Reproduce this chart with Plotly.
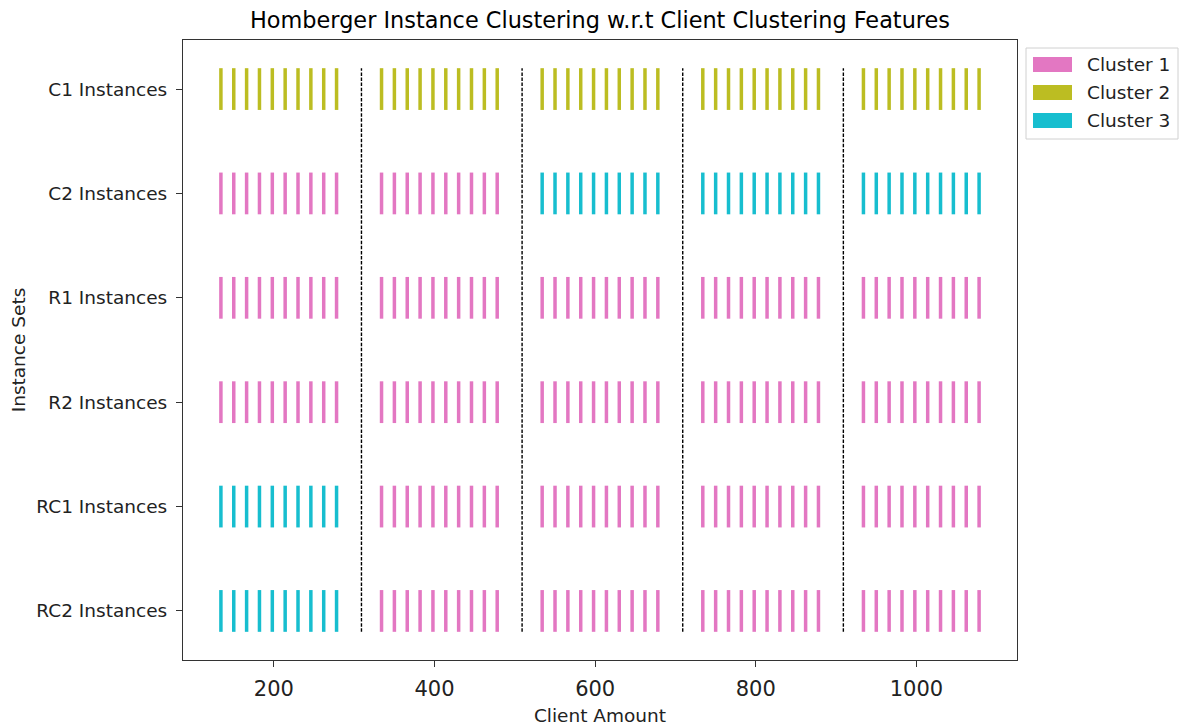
import plotly.graph_objects as go

# ---- data ----
instance_sets = ["C1 Instances", "C2 Instances", "R1 Instances", "R2 Instances",
                 "RC1 Instances", "RC2 Instances"]
group_starts = [134, 334, 534, 734, 934]          # first client amount of each group
group_step = 16                                     # spacing between instances in a group
n_per_group = 10
dividers = [309, 509, 709, 909]
# cluster id per instance set (rows) and group (columns)
clusters = [
    [2, 2, 2, 2, 2],  # C1
    [1, 1, 3, 3, 3],  # C2
    [1, 1, 1, 1, 1],  # R1
    [1, 1, 1, 1, 1],  # R2
    [3, 1, 1, 1, 1],  # RC1
    [3, 1, 1, 1, 1],  # RC2
]
cluster_names = ["Cluster 1", "Cluster 2", "Cluster 3"]
cluster_colors = {1: "#e377c2", 2: "#bcbd22", 3: "#17becf"}
x_ticks = [200, 400, 600, 800, 1000]

# ---- figure ----
OFF = 8  # page body margin
W, H = 1188 - OFF, 727 - OFF
PL, PR, PT, PB = 183, 1017, 40, 660   # plot area in screen pixels
L, T = PL - OFF, PT - OFF
R, B = W - (PR - OFF), H - (PB - OFF)
half = 0.2
nrows = len(instance_sets)
ypos = {name: nrows - 1 - i for i, name in enumerate(instance_sets)}

fig = go.Figure()
for cid in (1, 2, 3):
    xs, ys = [], []
    for r, name in enumerate(instance_sets):
        yc = ypos[name]
        for g, start in enumerate(group_starts):
            if clusters[r][g] != cid:
                continue
            for i in range(n_per_group):
                x = start + i * group_step
                xs += [x, x, None]
                ys += [yc - half, yc + half, None]
    fig.add_trace(go.Scatter(x=xs, y=ys, mode="lines",
                             line=dict(color=cluster_colors[cid], width=3.5),
                             name=cluster_names[cid - 1], showlegend=False,
                             hoverinfo="skip"))

dx, dy = [], []
for d in dividers:
    dx += [d, d, None]
    dy += [-half, nrows - 1 + half, None]
fig.add_trace(go.Scatter(x=dx, y=dy, mode="lines",
                         line=dict(color="black", width=1.4, dash="3.5px,1.6px"),
                         showlegend=False, hoverinfo="skip"))

xmin = group_starts[0]
xmax = group_starts[-1] + (n_per_group - 1) * group_step
xm = 0.05 * (xmax - xmin)
ymin, ymax = -half, nrows - 1 + half
ym = 0.05 * (ymax - ymin)

font = "DejaVu Sans"
fig.update_layout(
    width=W, height=H,
    margin=dict(l=L, r=R, t=T, b=B, autoexpand=False),
    paper_bgcolor="white", plot_bgcolor="white",
    font=dict(family=font, size=18, color="#222"),
    title=dict(text="Homberger Instance Clustering w.r.t Client Clustering Features",
               x=((PL + PR) / 2 - OFF) / W, xanchor="center",
               y=1 - (20 - OFF) / H, yanchor="middle",
               font=dict(family=font, size=22.4, color="black")),
    showlegend=False,
)
fig.update_xaxes(range=[xmin - xm, xmax + xm], tickvals=x_ticks, automargin=False,
                 ticks="outside", ticklen=6, tickwidth=1.2, tickcolor="#333",
                 showline=True, linecolor="#333", linewidth=1.2, mirror=True,
                 showgrid=False, zeroline=False, ticklabelstandoff=4,
                 tickfont=dict(family=font, size=21, color="#222"),
                 title=dict(text="Client Amount", font=dict(family=font, size=18.5, color="#222"),
                            standoff=8))
fig.update_yaxes(range=[ymin - ym, ymax + ym], automargin=False,
                 tickvals=[ypos[n] for n in instance_sets], ticktext=instance_sets,
                 ticks="outside", ticklen=6, tickwidth=1.2, tickcolor="#333",
                 showline=True, linecolor="#333", linewidth=1.2, mirror=True,
                 showgrid=False, zeroline=False, ticklabelstandoff=5,
                 tickfont=dict(family=font, size=18.5, color="#222"),
                 title=dict(text="Instance Sets", font=dict(family=font, size=18.5, color="#222"),
                            standoff=8))

# ---- manual legend (matplotlib style, outside right) ----
pw, ph = PR - PL, PB - PT
def px(x): return (x - PL) / pw
def py(y): return (PB - y) / ph

fig.add_shape(type="rect", xref="paper", yref="paper",
              x0=px(1026), x1=px(1178), y0=py(139), y1=py(48),
              line=dict(color="#d0d0d0", width=1), fillcolor="white")
for k, cid in enumerate((1, 2, 3)):
    yc = 64.5 + k * 28
    fig.add_shape(type="rect", xref="paper", yref="paper",
                  x0=px(1033), x1=px(1072), y0=py(yc + 7.5), y1=py(yc - 7.5),
                  line=dict(width=0), fillcolor=cluster_colors[cid])
    fig.add_annotation(xref="paper", yref="paper", x=px(1085), y=py(yc),
                       text=cluster_names[k], showarrow=False,
                       xanchor="left", yanchor="middle",
                       font=dict(family=font, size=18.5, color="#222"))

fig.write_html("out.html")
